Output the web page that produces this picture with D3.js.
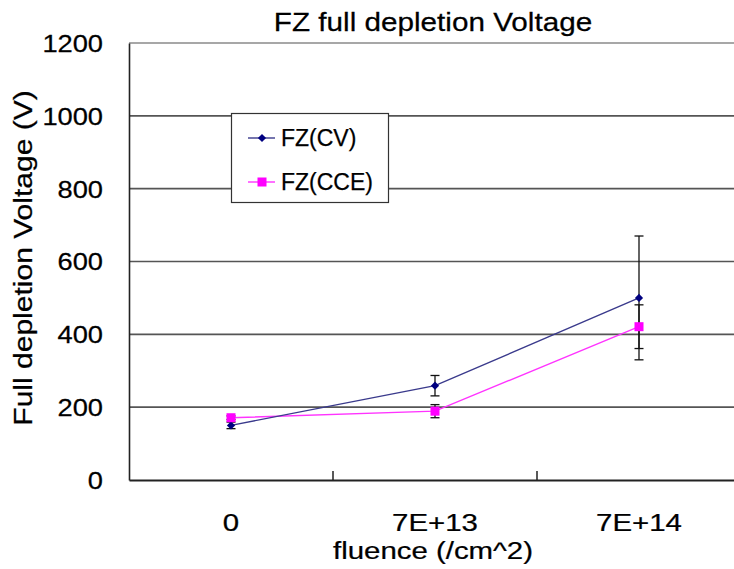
<!DOCTYPE html>
<html><head><meta charset="utf-8">
<script src="https://cdn.jsdelivr.net/npm/d3@7/dist/d3.min.js"></script>
<style>
html,body{margin:0;padding:0;background:#fff;overflow:hidden}
text{font-family:"Liberation Sans",Arial,sans-serif;fill:#000;stroke:#000;stroke-width:0.25px}
</style></head>
<body><svg id="c" width="734" height="569"></svg>
<script>
const categories = ["0", "7E+13", "7E+14"];
const cvValues = [150, 259, 500];
const cvErrors = [9, 28, 170];
const cceValues = [171, 189, 421];
const cceErrors = [5, 18, 60];
const yTicks = [0, 200, 400, 600, 800, 1000, 1200];
const seriesNames = ["FZ(CV)", "FZ(CCE)"];

const SX = 1.16;
const svg = d3.select("#c");
const L = 129, R = 741, T = 43, B = 480;
const x = d3.scaleBand().domain(categories).range([L, R]).padding(0);
const y = d3.scaleLinear().domain([0, 1200]).range([B, T]);
const cx = c => x(c) + x.bandwidth() / 2;

// gridlines
svg.append("g").selectAll("line").data(yTicks.filter(d => d > 0)).join("line")
  .attr("x1", L).attr("x2", R).attr("y1", d => y(d)).attr("y2", d => y(d))
  .attr("stroke", d => d === 1200 ? "#8a8a8a" : "#555").attr("stroke-width", 1.6);

// y axis
const ya = svg.append("g").attr("transform", `translate(${L},0)`)
  .call(d3.axisLeft(y).tickValues(yTicks).tickSize(0).tickFormat(d3.format("d")));
ya.select(".domain").attr("stroke", "#222").attr("stroke-width", 1.6);
ya.selectAll("text").attr("x", -26 / SX).attr("dy", "0.36em")
  .attr("transform", `scale(${SX},1)`).style("font-size", "23.5px")
  .style("font-family", "'Liberation Sans',Arial,sans-serif").attr("fill", "#000");

// x axis
const XS = 1.2;
const xa = svg.append("g").attr("transform", `translate(0,${B})`)
  .call(d3.axisBottom(x).tickSize(0));
xa.select(".domain").attr("stroke", "#222").attr("stroke-width", 1.8);
xa.selectAll("text").attr("y", 51).attr("dy", 0)
  .attr("transform", `scale(${XS},1)`).style("font-size", "24.5px")
  .style("font-family", "'Liberation Sans',Arial,sans-serif").attr("fill", "#000");
// category boundary tick marks (inside)
svg.append("g").selectAll("line").data(categories.slice(1)).join("line")
  .attr("x1", d => x(d)).attr("x2", d => x(d)).attr("y1", B).attr("y2", B - 9)
  .attr("stroke", "#222").attr("stroke-width", 1.5);

// lines
const line = d3.line().x((d, i) => cx(categories[i])).y(d => y(d));
svg.append("path").datum(cceValues).attr("d", line).attr("fill", "none")
  .attr("stroke", "#ff33ff").attr("stroke-width", 1.4);
svg.append("path").datum(cvValues).attr("d", line).attr("fill", "none")
  .attr("stroke", "#3a3a8c").attr("stroke-width", 1.4);

// error bars
function errBars(vals, errs) {
  const g = svg.append("g").attr("stroke", "#111").attr("stroke-width", 1.3);
  vals.forEach((v, i) => {
    const px = cx(categories[i]);
    g.append("line").attr("x1", px).attr("x2", px).attr("y1", y(v - errs[i])).attr("y2", y(v + errs[i]));
    [v - errs[i], v + errs[i]].forEach(e => g.append("line")
      .attr("x1", px - 4.5).attr("x2", px + 4.5).attr("y1", y(e)).attr("y2", y(e)));
  });
}
errBars(cvValues, cvErrors);
errBars(cceValues, cceErrors);

// markers
const diamond = d3.symbol().type(d3.symbolSquare).size(34);
svg.append("g").selectAll("path").data(cvValues).join("path")
  .attr("d", diamond)
  .attr("transform", (d, i) => `translate(${cx(categories[i])},${y(d)}) rotate(45)`)
  .attr("fill", "#000080");
svg.append("g").selectAll("rect").data(cceValues).join("rect")
  .attr("x", (d, i) => cx(categories[i]) - 4.5).attr("y", d => y(d) - 4.5)
  .attr("width", 9).attr("height", 9).attr("fill", "#ff00ff");

// legend
const lg = svg.append("g");
lg.append("rect").attr("x", 231.5).attr("y", 113.5).attr("width", 157).attr("height", 89)
  .attr("fill", "#fff").attr("stroke", "#333").attr("stroke-width", 1.2);
const legRows = [
  { name: seriesNames[0], color: "#3a3a8c", mark: "#000080", y: 138, shape: "d" },
  { name: seriesNames[1], color: "#ff33ff", mark: "#ff00ff", y: 182, shape: "s" }
];
legRows.forEach(r => {
  lg.append("line").attr("x1", 248).attr("x2", 275).attr("y1", r.y).attr("y2", r.y)
    .attr("stroke", r.color).attr("stroke-width", 1.4);
  if (r.shape === "d") lg.append("path").attr("d", diamond).attr("transform", `translate(262,${r.y}) rotate(45)`).attr("fill", r.mark);
  else lg.append("rect").attr("x", 257.5).attr("y", r.y - 4.5).attr("width", 9).attr("height", 9).attr("fill", r.mark);
  lg.append("text").attr("transform", `translate(281,${r.y + 8})`)
    .style("font-size", "23px").text(r.name);
});

// titles
svg.append("text").attr("transform", `translate(433,31) scale(1.164,1)`)
  .attr("text-anchor", "middle").style("font-size", "25.5px").text("FZ full depletion Voltage");
svg.append("text").attr("transform", `translate(433,559) scale(1.2,1)`)
  .attr("text-anchor", "middle").style("font-size", "24.5px").text("fluence (/cm^2)");
svg.append("text").attr("transform", `translate(32,258) rotate(-90) scale(1.155,1)`)
  .attr("text-anchor", "middle").style("font-size", "26px").text("Full depletion Voltage (V)");
</script></body></html>
